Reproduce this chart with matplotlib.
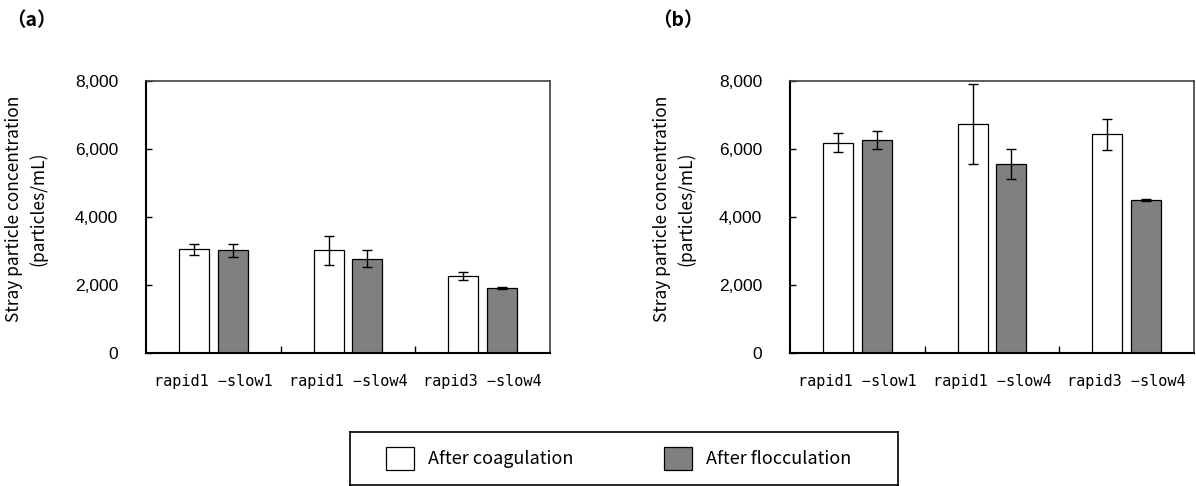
import numpy as np
import matplotlib
matplotlib.use("Agg")
import matplotlib.pyplot as plt
from matplotlib.patches import Patch
from matplotlib.ticker import FuncFormatter

plt.rcParams['font.family'] = ['Noto Sans CJK JP', 'DejaVu Sans']

conditions = ["rapid1 −slow1", "rapid1 −slow4", "rapid3 −slow4"]
series_names = ["After coagulation", "After flocculation"]

# (a)
a_coag = [3050, 3020, 2265]
a_coag_err = [170, 430, 130]
a_floc = [3020, 2775, 1910]
a_floc_err = [190, 240, 40]

# (b)
b_coag = [6185, 6725, 6440]
b_coag_err = [275, 1175, 455]
b_floc = [6265, 5560, 4500]
b_floc_err = [265, 435, 25]

W, H = 1196, 486
fig = plt.figure(figsize=(W / 100, H / 100), dpi=100)

GRAY = '#808080'
bar_w = 0.223
off = 0.143
ekw = dict(ecolor='black', elinewidth=1.0, capthick=1.0)


def draw_panel(ax, coag, coag_err, floc, floc_err, label_x):
    x = np.arange(len(conditions))
    ax.bar(x - off, coag, bar_w, yerr=coag_err, color='white', edgecolor='black',
           linewidth=0.9, capsize=3.3, error_kw=ekw)
    ax.bar(x + off, floc, bar_w, yerr=floc_err, color=GRAY, edgecolor='black',
           linewidth=0.9, capsize=3.3, error_kw=ekw)
    ax.set_xlim(-0.5, len(conditions) - 0.5)
    ax.set_ylim(0, 8000)
    ax.set_yticks(np.arange(0, 8001, 2000))
    ax.yaxis.set_major_formatter(FuncFormatter(lambda v, p: f"{int(v):,}"))
    ax.set_xticks(x)
    ax.set_xticklabels(conditions)
    ax.set_xticks(x[:-1] + 0.5, minor=True)
    ax.tick_params(axis='x', which='major', length=0, pad=15, labelsize=11,
                   labelfontfamily='DejaVu Sans Mono')
    ax.tick_params(axis='x', which='minor', direction='in', length=5, width=1.0)
    ax.tick_params(axis='y', direction='in', length=4.5, width=1.0, pad=20,
                   labelsize=12.5, labelfontfamily='Liberation Sans')
    for s in ('left', 'bottom'):
        ax.spines[s].set_linewidth(1.5)
        ax.spines[s].set_color('black')
    for s in ('top', 'right'):
        ax.spines[s].set_linewidth(1.2)
        ax.spines[s].set_color('#404040')
    ax.set_ylabel("Stray particle concentration\n(particles/mL)", fontsize=12.5,
                  linespacing=1.35)
    ax.yaxis.set_label_coords(label_x, 0.53)


ax_a = fig.add_axes([146 / W, 1 - 353 / H, 404 / W, 272 / H])
draw_panel(ax_a, a_coag, a_coag_err, a_floc, a_floc_err, -0.245)
ax_b = fig.add_axes([790 / W, 1 - 353 / H, 404 / W, 272 / H])
draw_panel(ax_b, b_coag, b_coag_err, b_floc, b_floc_err, -0.235)

fig.text(31 / W, 1 - 21 / H, "（a）", fontsize=14, fontweight='bold',
         ha='center', va='center')
fig.text(678 / W, 1 - 21 / H, "（b）", fontsize=14, fontweight='bold',
         ha='center', va='center')

# shared legend in its own framed box
lax = fig.add_axes([350 / W, 1 - 485 / H, 548 / W, 53 / H])
lax.set_xticks([])
lax.set_yticks([])
for s in lax.spines.values():
    s.set_linewidth(1.2)
    s.set_color('black')
handles = [Patch(facecolor='white', edgecolor='black', linewidth=0.9),
           Patch(facecolor=GRAY, edgecolor='black', linewidth=0.9)]
lax.legend(handles, series_names, loc='center', ncol=2, frameon=False,
           bbox_to_anchor=(0.49, 0.5),
           fontsize=13, handlelength=1.55, handleheight=1.55,
           handletextpad=0.8, columnspacing=5.0)

fig.savefig("out.png", dpi=100)
